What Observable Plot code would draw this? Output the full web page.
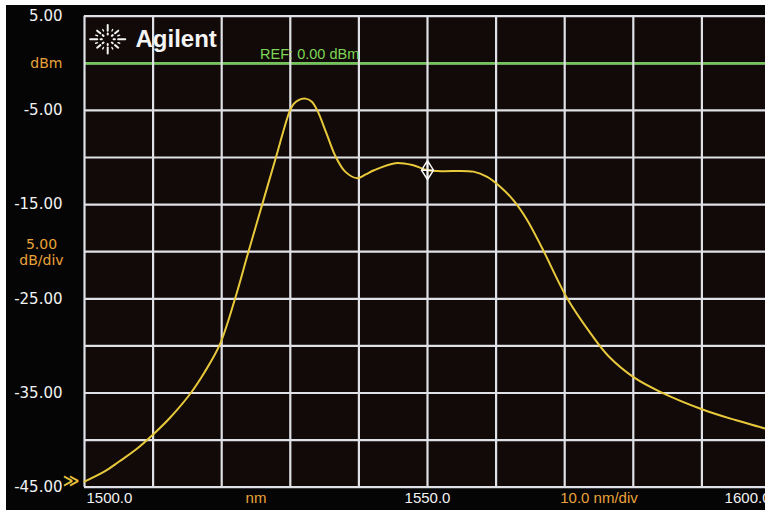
<!DOCTYPE html>
<html><head><meta charset="utf-8">
<script src="https://cdn.jsdelivr.net/npm/d3@7"></script>
<script src="https://cdn.jsdelivr.net/npm/@observablehq/plot@0.6"></script>
<style>
html,body{margin:0;padding:0;background:#fff;overflow:hidden;width:765px;height:512px}
#chart{position:absolute;left:6px;top:5px;width:759px;height:505px;background:#050505;overflow:hidden}
</style></head><body><div id="chart"></div>
<script>
// Spectrum trace (wavelength in nm, power in dBm)
const wavelength = [1500, 1503, 1505, 1507.5, 1510, 1512.5, 1515.5, 1517.5, 1519.7, 1521.9, 1523.9, 1525.9, 1527.9, 1529.9, 1530.5, 1531.2, 1532.2, 1533.1, 1534, 1535.3, 1536.6, 1538, 1539.8, 1541, 1542.2, 1545.3, 1547.8, 1550, 1552, 1556.7, 1558.7, 1560.6, 1562.6, 1564.5, 1566.7, 1570.4, 1573.8, 1576.4, 1580.2, 1584, 1590.1, 1595, 1599.3, 1600];
const power = [-44.4, -43.3, -42.3, -41.0, -39.4, -37.6, -35.0, -32.8, -29.9, -25.1, -20.0, -15.0, -10.0, -5.1, -4.3, -3.9, -3.75, -4.05, -5.1, -7.5, -9.9, -11.5, -12.2, -11.8, -11.35, -10.6, -10.8, -11.35, -11.45, -11.5, -12.05, -13.1, -14.6, -16.6, -19.6, -25.0, -28.7, -31.1, -33.4, -34.9, -36.75, -37.9, -38.8, -39.0];

// Marker
const markerWavelength = [1550];
const markerPower = [-11.35];

// Axis labels
const yTickValues = [5, -5, -15, -25, -35, -45];
const yUnit = "dBm";
const yScaleText = "5.00\ndB/div";
const xTickValues = [1500, 1550, 1600];
const xTickLabels = ["1500.0", "1550.0", "1600.0"];
const xUnit = "nm";
const xScaleText = "10.0 nm/div";
const refLevel = 0;
const refText = "REF: 0.00 dBm";
const brand = "Agilent";

const W = 759, H = 505;
const X0 = 78, X1 = 764, YB = 481.7, YT = 10.7;
const series = wavelength.map((w, i) => ({w, p: power[i]}));
const marker = markerWavelength.map((w, i) => ({w, p: markerPower[i]}));
const xLabels = xTickValues.map((v, i) => ({v, t: xTickLabels[i]}));

const grid = "#dfe1e6";
const orange = "#e9a23b";
const white = "#f2f2f2";

const markerSymbol = {
  draw(ctx) {
    ctx.moveTo(0, -9.5); ctx.lineTo(6, 0); ctx.lineTo(0, 9.5); ctx.lineTo(-6, 0); ctx.closePath();
    ctx.moveTo(-6, 0); ctx.lineTo(6, 0);
    ctx.moveTo(0, -9.5); ctx.lineTo(0, 9.5);
  }
};

const xText = {frameAnchor: "bottom", lineAnchor: "middle", dy: 11, fontSize: 15, fontFamily: "Liberation Sans"};

const chart = Plot.plot({
  width: W, height: H,
  marginLeft: X0, marginRight: 0, marginTop: YT, marginBottom: H - YB,
  x: {domain: [1500, 1600], range: [X0, X1], axis: null},
  y: {domain: [-45, 5], range: [YB, YT], axis: null},
  style: {background: "#050505", overflow: "hidden", fontFamily: "DejaVu Sans"},
  marks: [
    Plot.frame({fill: "#110a08", stroke: "none"}),
    Plot.ruleY(d3.range(-45, 6, 5), {stroke: grid, strokeWidth: 2.2}),
    Plot.ruleY([refLevel], {stroke: "#6cc84e", strokeWidth: 2.2}),
    Plot.ruleX(d3.range(1500, 1601, 10), {stroke: grid, strokeWidth: 2.2}),
    Plot.line(series, {x: "w", y: "p", stroke: "#e8c93c", strokeWidth: 2, curve: "catmull-rom"}),
    Plot.dot(marker, {x: "w", y: "p", symbol: markerSymbol, r: 5, stroke: "#f6f6f6", fill: "none", strokeWidth: 1.5}),
    // y tick labels
    Plot.text(yTickValues, {y: d => d, frameAnchor: "left", dx: -22, textAnchor: "end", text: d => d.toFixed(2), fill: white, fontSize: 15, fontFamily: "DejaVu Sans"}),
    Plot.text([yUnit], {y: () => refLevel, frameAnchor: "left", dx: -22, textAnchor: "end", text: d => d, fill: orange, fontSize: 14, fontFamily: "DejaVu Sans"}),
    Plot.text([yScaleText], {y: () => -20, frameAnchor: "left", dx: -43, textAnchor: "middle", text: d => d, fill: orange, fontSize: 14, lineHeight: 1.2, fontFamily: "DejaVu Sans"}),
    Plot.text(["\u226B"], {x: () => 1500, y: () => -45, dx: -5, dy: -6, textAnchor: "end", text: d => d, fill: "#e8c23a", fontSize: 16, fontWeight: "bold"}),
    // x tick labels
    Plot.text(xLabels.slice(0, 1), {...xText, x: "v", dx: 2, textAnchor: "start", text: "t", fill: white}),
    Plot.text(xLabels.slice(1, 2), {...xText, x: "v", textAnchor: "middle", text: "t", fill: white}),
    Plot.text(xLabels.slice(2, 3), {...xText, x: "v", textAnchor: "end", text: "t", fill: white}),
    Plot.text([xUnit], {...xText, x: () => 1525, textAnchor: "middle", text: d => d, fill: orange}),
    Plot.text([xScaleText], {...xText, x: () => 1575, textAnchor: "middle", text: d => d, fill: orange}),
    // reference label
    Plot.text([refText], {x: () => 1525.6, y: () => refLevel, dy: -4.5, lineAnchor: "bottom", textAnchor: "start", text: d => d, fill: "#7ed456", fontSize: 14.5, fontFamily: "Liberation Sans"}),
    // brand
    Plot.text([brand], {frameAnchor: "top-left", dx: 51, dy: 31, lineAnchor: "bottom", textAnchor: "start", text: d => d, fill: "#f4f4f4", fontSize: 24, fontWeight: "bold", fontFamily: "Liberation Sans"})
  ]
});
document.getElementById("chart").appendChild(chart);

// Agilent spark logo (decoration)
const g = d3.select(chart).append("g")
  .attr("transform", "translate(101.7,34.2)")
  .attr("stroke", "#f4f4f4").attr("stroke-linecap", "round").attr("fill", "none");
const sx = 1.3, sy = 1.05;
for (let k = 0; k < 16; k++) {
  const a = k * Math.PI / 8;
  const segs = k % 4 === 0 ? [[4.5, 5.5, 2], [8, 13.5, 2]]
             : k % 2 === 0 ? [[4.5, 5.5, 2], [8, 11.5, 2]]
             : [[8.5, 10, 1.4]];
  for (const [r0, r1, sw] of segs) {
    g.append("line")
      .attr("x1", sx * r0 * Math.sin(a)).attr("y1", -sy * r0 * Math.cos(a))
      .attr("x2", sx * r1 * Math.sin(a)).attr("y2", -sy * r1 * Math.cos(a))
      .attr("stroke-width", sw);
  }
}
</script></body></html>
